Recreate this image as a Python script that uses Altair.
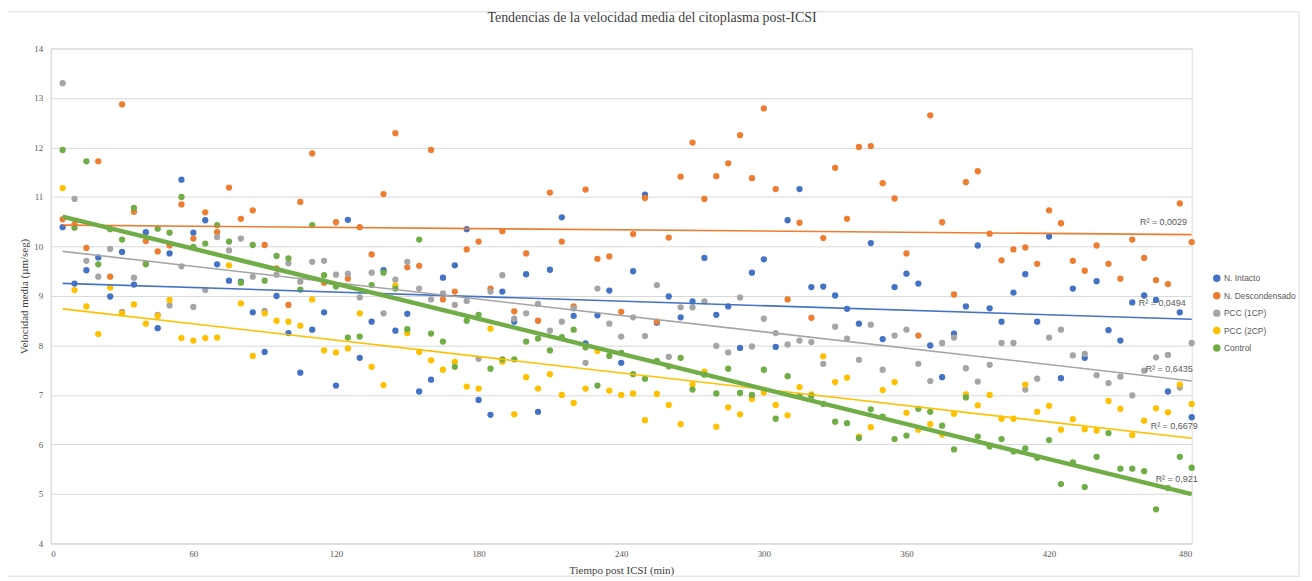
import altair as alt
import pandas as pd

minutos = list(range(5, 481, 5))

series = ["N. Intacto", "N. Descondensado", "PCC (1CP)", "PCC (2CP)", "Control"]
colores = ["#4472C4", "#ED7D31", "#A5A5A5", "#FFC000", "#70AD47"]

intacto = [
    10.39, 9.25, 9.52, 9.78, 8.99, 9.89, 9.23, 10.29, 8.35, 9.86, 11.35, 10.28,
    10.53, 9.64, 9.31, 9.29, 8.67, 7.87, 9.00, 8.25, 7.45, 8.32, 8.67, 7.19,
    10.54, 7.75, 8.48, 9.52, 8.30, 8.64, 7.07, 7.31, 9.37, 9.62, 10.35, 6.90,
    6.60, 9.09, 8.48, 9.44, 6.66, 9.53, 10.59, 8.60, 8.04, 8.61, 9.11, 7.65,
    9.50, 11.05, 8.46, 8.99, 8.57, 8.89, 9.77, 8.62, 8.79, 7.95, 9.47, 9.74,
    7.97, 10.53, 11.16, 9.18, 9.19, 9.01, 8.74, 8.44, 10.07, 8.13, 9.18, 9.45,
    9.25, 8.00, 7.36, 8.24, 8.79, 10.02, 8.75, 8.48, 9.07, 9.44, 8.48, 10.20,
    7.34, 9.15, 7.75, 9.30, 8.31, 8.10, 8.87, 9.01, 8.92, 7.07, 8.67, 6.55,
]
descondensado = [
    10.55, 10.45, 9.97, 11.72, 9.39, 12.87, 10.70, 10.11, 9.90, 10.02, 10.85, 10.16,
    10.69, 10.29, 11.19, 10.56, 10.73, 10.03, 9.56, 8.82, 10.90, 11.88, 9.27, 10.49,
    9.35, 10.39, 9.84, 11.06, 12.29, 9.58, 9.61, 11.95, 8.93, 9.09, 9.94, 10.10,
    9.15, 10.31, 8.69, 9.86, 8.50, 11.09, 10.10, 8.79, 11.15, 9.75, 9.80, 8.68,
    10.25, 10.98, 8.48, 10.18, 11.41, 12.10, 10.96, 11.42, 11.68, 12.25, 11.38, 12.79,
    11.16, 8.93, 10.48, 8.56, 10.17, 11.59, 10.56, 12.01, 12.03, 11.28, 10.97, 9.86,
    8.20, 12.65, 10.49, 9.03, 11.30, 11.52, 10.26, 9.72, 9.94, 9.98, 9.65, 10.73,
    10.47, 9.71, 9.51, 10.02, 9.65, 9.35, 10.14, 9.77, 9.32, 9.24, 10.87, 10.09,
]
pcc1 = [
    13.30, 10.96, 9.71, 9.39, 9.95, 8.68, 9.37, 9.66, 8.62, 8.81, 9.60, 8.78,
    9.12, 10.19, 9.92, 10.16, 9.39, 8.70, 9.43, 9.66, 9.29, 9.69, 9.71, 9.43,
    9.45, 8.97, 9.47, 8.65, 9.33, 9.69, 9.15, 8.93, 9.05, 8.82, 8.90, 7.73,
    9.09, 9.42, 8.54, 8.65, 8.84, 8.30, 8.48, 8.75, 7.65, 9.15, 8.44, 8.18,
    8.57, 8.19, 9.22, 7.77, 8.77, 8.77, 8.89, 7.99, 7.86, 8.97, 7.98, 8.54,
    8.25, 8.02, 8.10, 8.07, 7.63, 8.38, 8.14, 7.71, 8.42, 7.51, 8.20, 8.32,
    7.63, 7.28, 8.05, 8.16, 7.54, 7.27, 7.61, 8.05, 8.05, 7.11, 7.33, 8.16,
    8.32, 7.80, 7.83, 7.40, 7.24, 7.37, 6.99, 7.49, 7.76, 7.81, 7.15, 8.05,
]
pcc2 = [
    11.18, 9.12, 8.79, 8.23, 9.17, 8.65, 8.83, 8.44, 8.60, 8.92, 8.15, 8.10,
    8.15, 8.16, 9.62, 8.85, 7.79, 8.65, 8.50, 8.48, 8.40, 8.93, 7.90, 7.86,
    7.94, 8.65, 7.57, 7.20, 9.21, 8.25, 7.87, 7.70, 7.51, 7.67, 7.17, 7.13,
    8.34, 7.67, 6.61, 7.36, 7.13, 7.42, 7.00, 6.84, 7.13, 7.89, 7.09, 7.00,
    7.03, 6.49, 7.02, 6.80, 6.41, 7.21, 7.47, 6.36, 6.75, 6.61, 6.92, 7.05,
    6.80, 6.59, 7.16, 7.01, 7.78, 7.26, 7.35, 6.16, 6.35, 7.10, 7.26, 6.64,
    6.30, 6.41, 6.20, 6.62, 7.01, 6.79, 7.00, 6.52, 6.52, 7.21, 6.66, 6.78,
    6.30, 6.51, 6.31, 6.28, 6.88, 6.72, 6.19, 6.48, 6.73, 6.65, 7.21, 6.82,
]
control = [
    11.95, 10.38, 11.72, 9.64, 10.35, 10.14, 10.78, 9.64, 10.36, 10.28, 11.00, 9.99,
    10.06, 10.43, 10.10, 9.27, 10.03, 9.31, 9.81, 9.76, 9.13, 10.43, 9.42, 9.19,
    8.16, 8.18, 9.22, 9.47, 9.15, 8.33, 10.14, 8.24, 8.08, 7.57, 8.50, 8.62,
    7.53, 7.72, 7.72, 8.08, 8.14, 7.90, 8.17, 8.32, 7.96, 7.19, 7.79, 7.85,
    7.42, 7.33, 7.69, 7.58, 7.75, 7.11, 7.41, 7.03, 7.53, 7.04, 7.00, 7.51,
    6.52, 7.38, 6.98, 6.98, 6.82, 6.46, 6.43, 6.13, 6.71, 6.56, 6.11, 6.18,
    6.72, 6.66, 6.38, 5.90, 6.95, 6.16, 5.96, 6.11, 5.86, 5.92, 5.73, 6.09,
    5.20, 5.64, 5.14, 5.75, 6.23, 5.51, 5.51, 5.46, 4.69, 5.12, 5.75, 5.53,
]

# R² labels (text as shown) and their anchor in data space
r2_textos = ["R² = 0,0029", "R² = 0,0494", "R² = 0,6435", "R² = 0,6679", "R² = 0,921"]
r2_x = [478, 477.5, 480.4, 482.5, 482.5]
r2_y = [10.49, 8.86, 7.53, 6.37, 5.31]

valores = [intacto, descondensado, pcc1, pcc2, control]
filas = []
for nombre, vals in zip(series, valores):
    for m, v in zip(minutos, vals):
        filas.append({"minuto": m, "velocidad": v, "serie": nombre})
df = pd.DataFrame(filas)

df_r2 = pd.DataFrame({"texto": r2_textos, "minuto": r2_x, "velocidad": r2_y})

serif = "Liberation Serif"
sans = "Liberation Sans"

x_enc = alt.X(
    "minuto:Q",
    scale=alt.Scale(domain=[0, 480], nice=False),
    axis=alt.Axis(
        values=list(range(0, 481, 60)),
        title="Tiempo post ICSI (min)",
        grid=False,
        ticks=False,
        domainColor="#D9D9D9",
        labelFont=serif,
        labelFontSize=9,
        labelColor="#595959",
        labelPadding=6,
        titleFont=serif,
        titleFontSize=11,
        titleFontWeight="normal",
        titleColor="#404040",
        titlePadding=6,
    ),
)
y_enc = alt.Y(
    "velocidad:Q",
    scale=alt.Scale(domain=[4, 14], nice=False),
    axis=alt.Axis(
        values=list(range(4, 15)),
        title="Velocidad media (µm/seg)",
        grid=True,
        gridColor="#D9D9D9",
        ticks=False,
        domainColor="#D9D9D9",
        labelFont=serif,
        labelFontSize=9,
        labelColor="#595959",
        labelPadding=8,
        titleFont=serif,
        titleFontSize=11,
        titleFontWeight="normal",
        titleColor="#404040",
        titlePadding=4,
    ),
)

base = alt.Chart(df)

puntos = base.mark_circle(size=40, opacity=1).encode(
    x=x_enc,
    y=y_enc,
    color=alt.Color(
        "serie:N",
        scale=alt.Scale(domain=series, range=colores),
        sort=series,
        legend=alt.Legend(
            title=None,
            orient="none",
            legendX=1169,
            legendY=227,
            symbolType="circle",
            symbolSize=36,
            labelFont=sans,
            labelFontSize=8.5,
            labelColor="#595959",
            labelOffset=3,
            rowPadding=4.5,
        ),
    ),
)

regresion = base.transform_regression(
    "minuto", "velocidad", groupby=["serie"], extent=[5, 480]
)

tendencias_finas = (
    regresion.transform_filter(alt.datum.serie != "Control")
    .mark_line(strokeWidth=1.6)
    .encode(
        x="minuto:Q",
        y="velocidad:Q",
        stroke=alt.Stroke("serie:N", scale=alt.Scale(domain=series, range=colores), legend=None),
    )
)

tendencia_control = (
    regresion.transform_filter(alt.datum.serie == "Control")
    .mark_line(strokeWidth=4.5)
    .encode(
        x="minuto:Q",
        y="velocidad:Q",
        stroke=alt.Stroke("serie:N", scale=alt.Scale(domain=series, range=colores), legend=None),
    )
)

etiquetas = (
    alt.Chart(df_r2)
    .mark_text(align="right", baseline="middle", font=sans, fontSize=9, color="#595959")
    .encode(x="minuto:Q", y="velocidad:Q", text="texto:N")
)

borde = (
    alt.Chart(pd.DataFrame({"k": [0]}))
    .mark_rect(fill=None, stroke="#D9D9D9", strokeWidth=1)
    .encode(x=alt.value(-46), x2=alt.value(1256), y=alt.value(-37), y2=alt.value(531))
)

chart = (
    alt.layer(borde, puntos, tendencias_finas, tendencia_control, etiquetas)
    .properties(
        width=1148,
        height=498,
        autosize=alt.AutoSizeParams(type="none"),
        padding={"left": 43, "top": 39, "right": 113, "bottom": 36},
        title=alt.TitleParams(
            "Tendencias de la velocidad media del citoplasma post-ICSI",
            font=serif,
            fontSize=14,
            fontWeight="normal",
            color="#404040",
            anchor="middle",
            dx=31,
            offset=-14,
        ),
    )
    .configure_view(stroke=None)
    .configure(background="white")
)

chart.save("out.html", embed_options={"renderer": "svg", "actions": False})
